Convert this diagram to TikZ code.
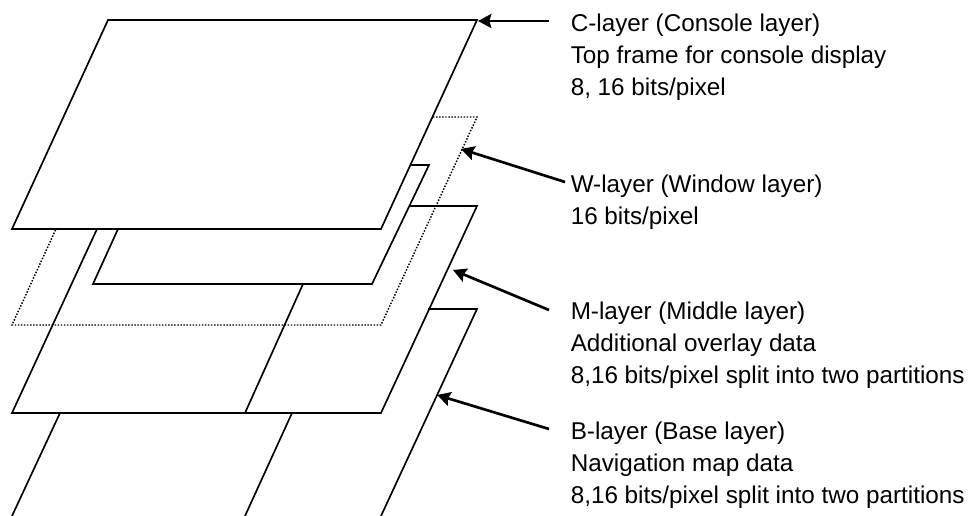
\documentclass[tikz,border=0pt]{standalone}
\usepackage{fontspec}
\setmainfont{Liberation Sans}
\usetikzlibrary{arrows.meta}
\tikzset{
  x=0.75pt,y=-0.75pt,
  plane/.style={draw=black,line width=1.25pt,line join=miter},
  hidden/.style={draw=black,line width=1.1pt,dash pattern=on 1.1pt off 1.2pt},
  pointer/.style={draw=black,line width=2pt,-{Stealth[length=10pt,width=10.5pt,inset=1.5pt]}},
  caption/.style={anchor=base west,align=left,inner sep=0pt,font=\fontsize{18.2}{24}\selectfont}
}
\begin{document}
\begin{tikzpicture}
\useasboundingbox (0,0) rectangle (976,516);
% dotted W-layer
\draw[hidden] (433,117) -- (477,117) -- (381,325) -- (12,325) -- (56,229);
% window
\draw[plane] (411,165) -- (429,165) -- (372,284) -- (93,284) -- (118,229);
% M-layer
\draw[plane] (410,206) -- (477,206) -- (381,413) -- (12,413) -- (97,229);
\draw[plane] (245,413) -- (303,284);
% B-layer
\draw[plane] (428,309) -- (477,309) -- (381,516);
\draw[plane] (12,516) -- (60,413);
\draw[plane] (245,516) -- (292,413);
% C-layer
\draw[plane] (12,229) -- (381,229) -- (477,20) -- (108,20) -- cycle;
% captions
\node[caption] (c) at (570.5,96) {C-layer (Console layer)\\Top frame for console display\\8, 16 bits/pixel};
\node[caption] (w) at (570.5,225) {W-layer (Window layer)\\16 bits/pixel};
\node[caption] (m) at (570.5,384) {M-layer (Middle layer)\\Additional overlay data\\8,16 bits/pixel split into two partitions};
\node[caption] (b) at (570.5,504) {B-layer (Base layer)\\Navigation map data\\8,16 bits/pixel split into two partitions};
\coordinate (ct) at (478,21);
\coordinate (wt) at (461,149);
\coordinate (mt) at (453,270);
\coordinate (bt) at (437,395);
\coordinate (cs) at (549,21);
\coordinate (ws) at (565,182);
\coordinate (ms) at (549,310);
\coordinate (bs) at (549,429);
\draw[pointer] (cs) -- (ct);
\draw[pointer] (ws) -- (wt);
\draw[pointer] (ms) -- (mt);
\draw[pointer] (bs) -- (bt);
\end{tikzpicture}
\end{document}
